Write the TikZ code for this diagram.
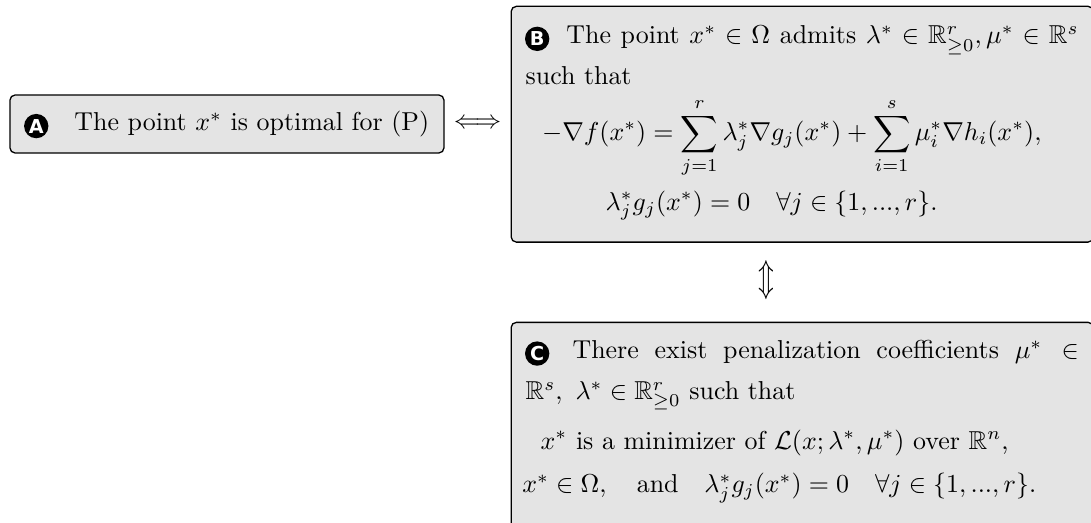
\documentclass[tikz,border=0pt]{standalone}
\usepackage{amsmath,amssymb}
\usepackage{graphicx}
\usepackage{fontspec}
\newfontfamily\circfont{DejaVu Sans}
\usetikzlibrary{calc}
\definecolor{boxfill}{RGB}{228,228,228}
\begin{document}
\begin{tikzpicture}[x=0.386pt,y=-0.386pt,
  box/.style={draw=black,line width=0.5pt,fill=boxfill,rounded corners=2pt},
  widebox/.style={box,text width=213.5pt,align=justify,inner xsep=5.6pt,inner ysep=0pt,anchor=north west},
  circ/.style={circle,fill=black,text=white,inner sep=0pt,minimum size=9.4pt,font=\circfont\bfseries\fontsize{7.4}{8}\selectfont}]
\useasboundingbox (0,0) rectangle (1091,522);
\clip (0,0) rectangle (1091,522);
\node[box,anchor=west,minimum height=22.4pt,inner xsep=5.7pt,inner ysep=0pt] (A) at (9.3,124)
  {\hspace{19.2pt}The point $x^*$ is optimal for (P)};
\node[widebox,text height=14.5pt,text depth=76.5pt] (B) at (510.5,5.7) {%
\baselineskip=15.8pt\lineskiplimit=-30pt\lineskip=0pt
\hspace{12pt} The point $x^*\in\Omega$ admits $\lambda^*\in\mathbb{R}^r_{\geq0},\mu^*\in\mathbb{R}^s$ such that\par
\vskip5.8pt
\hbox{\hskip6.4pt$\displaystyle -\nabla f(x^*)=\sum_{j=1}^r\lambda_j^*\nabla g_j(x^*)+\sum_{i=1}^s\mu_i^*\nabla h_i(x^*),$}
\vskip11pt
\hbox{\hskip30.9pt$\lambda_j^*g_j(x^*)=0\quad\forall j\in\{1,...,r\}.$}};
\node[widebox,text height=14pt,text depth=100pt] (C) at (510.5,321.7) {%
\baselineskip=15.8pt\lineskiplimit=-30pt\lineskip=0pt
\hspace{12pt} There exist penalization coefficients $\mu^*\in\mathbb{R}^s,\ \lambda^*\in\mathbb{R}^r_{\geq0}$ such that\par
\vskip3.3pt
\hbox{\hskip5.8pt$x^*$ is a minimizer of $\mathcal{L}(x;\lambda^*,\mu^*)$ over $\mathbb{R}^n$,}
\vskip1pt
\hbox{\hskip-1.3pt$x^*\in\Omega,\quad\text{and}\quad\lambda_j^*g_j(x^*)=0\quad\forall j\in\{1,...,r\}.$}};
\node[circ,xshift=10.4pt,yshift=1.7pt] (cA) at (A.base west) {A};
\node[circ,xshift=10.3pt,yshift=-12.8pt] (cB) at (B.north west) {B};
\node[circ,xshift=10.3pt,yshift=-12.3pt] (cC) at (C.north west) {C};
\node (AB) at ($(A.east)!0.5!(B.west)$) {$\Longleftrightarrow$};
\node (BC) at (766.7,280) {\scalebox{1}[1.45]{$\Updownarrow$}};
\end{tikzpicture}
\end{document}
